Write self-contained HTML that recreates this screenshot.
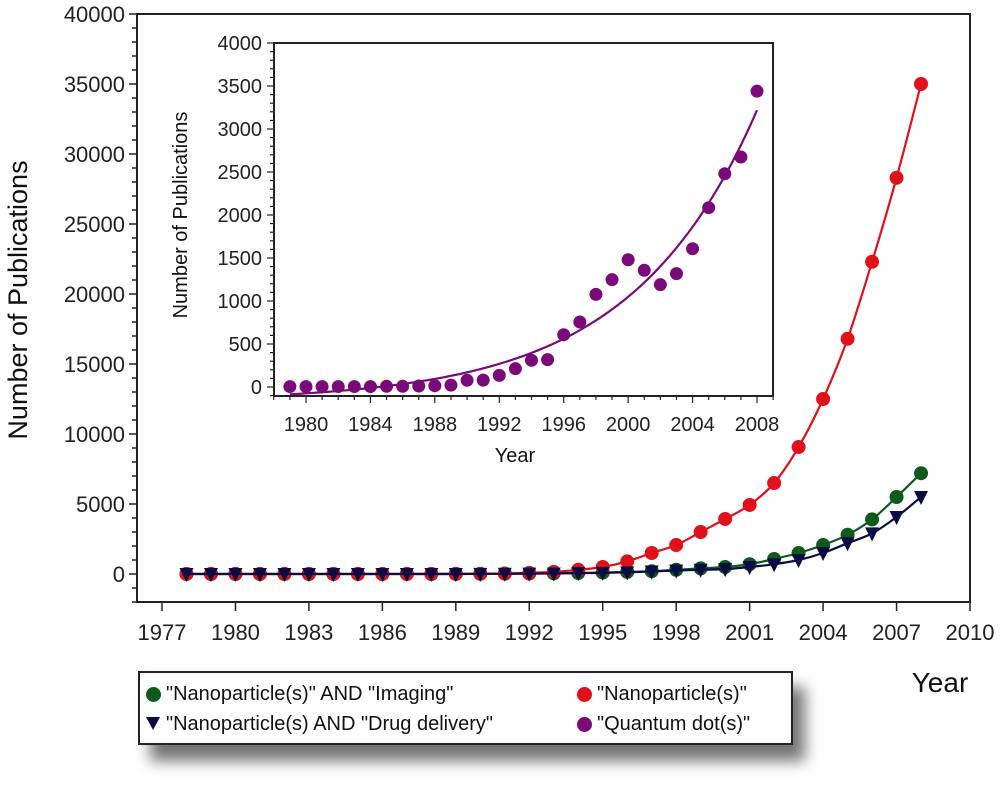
<!DOCTYPE html>
<html><head><meta charset="utf-8">
<style>
body{margin:0;background:#fff;width:1000px;height:802px;overflow:hidden;font-family:"Liberation Sans",sans-serif;}
svg{position:absolute;left:0;top:0}
#legend{position:absolute;left:138px;top:671px;width:651px;height:70px;border:2px solid #222;background:#fff;box-shadow:12px 16px 14px rgba(0,0,0,0.55);font-size:20px;color:#111}
.li{position:absolute;white-space:nowrap;line-height:22px}
.mk{display:inline-block;width:15px;height:15px;border-radius:50%;vertical-align:-2px;margin-right:5px}
</style></head><body>
<svg id="chart" width="1000" height="802"></svg>
<div id="legend">
 <div class="li" style="left:6px;top:10px"><span class="mk" style="background:#0e5a1a"></span>"Nanoparticle(s)" AND "Imaging"</div>
 <div class="li" style="left:6px;top:40px"><span style="display:inline-block;width:0;height:0;border-left:7px solid transparent;border-right:7px solid transparent;border-top:13px solid #0c0c45;margin-right:6px;vertical-align:0"></span>"Nanoparticle(s) AND "Drug delivery"</div>
 <div class="li" style="left:437px;top:10px"><span class="mk" style="background:#e0111a"></span>"Nanoparticle(s)"</div>
 <div class="li" style="left:437px;top:40px"><span class="mk" style="background:#7a0a78"></span>"Quantum dot(s)"</div>
</div>
<script>
const years = [1978,1979,1980,1981,1982,1983,1984,1985,1986,1987,1988,1989,1990,1991,1992,1993,1994,1995,1996,1997,1998,1999,2000,2001,2002,2003,2004,2005,2006,2007,2008];
const nanoVals = [5,5,5,5,5,5,5,5,5,5,10,15,20,40,80,150,300,500,900,1500,2070,3000,3930,4930,6500,9070,12500,16800,22300,28300,35000];
const imagingVals = [0,0,0,0,0,0,0,0,0,0,0,0,10,20,30,50,70,100,150,200,300,400,500,700,1070,1500,2070,2800,3900,5500,7200];
const drugVals = [0,0,0,0,0,0,0,0,0,0,0,0,10,15,25,40,60,80,120,180,250,300,350,500,700,1000,1500,2200,2900,4070,5500];
const qdYears = [1979,1980,1981,1982,1983,1984,1985,1986,1987,1988,1989,1990,1991,1992,1993,1994,1995,1996,1997,1998,1999,2000,2001,2002,2003,2004,2005,2006,2007,2008];
const qdVals = [5,5,5,5,5,5,8,8,12,15,22,78,80,135,213,310,318,608,756,1077,1248,1480,1357,1190,1318,1608,2085,2480,2674,3440];
const mainYTicks = [0,5000,10000,15000,20000,25000,30000,35000,40000];
const mainXTicks = [1977,1980,1983,1986,1989,1992,1995,1998,2001,2004,2007,2010];
const insetYTicks = [0,500,1000,1500,2000,2500,3000,3500,4000];
const insetXTicks = [1980,1984,1988,1992,1996,2000,2004,2008];

const svg = document.getElementById('chart');
const NS = 'http://www.w3.org/2000/svg';
function mk(tag, attrs, parent){const e=document.createElementNS(NS,tag);for(const k in attrs)e.setAttribute(k,attrs[k]);(parent||svg).appendChild(e);return e;}

const MX0=137,MX1=970,MY0=14,MY1=602;
const mx = y => 162 + (y-1977)*(970-162)/33;
const my = v => 574 - v*(574-14)/40000;
const IX0=274,IX1=773,IY0=43,IY1=396;
const ix = y => 306 + (y-1980)*(757-306)/28;
const iy = v => 387 - v*(387-43)/4000;

function smoothPath(xs, ys){
  let d='M'+xs[0]+','+ys[0];
  for(let i=0;i<xs.length-1;i++){
    const x0=xs[Math.max(i-1,0)],y0=ys[Math.max(i-1,0)],x1=xs[i],y1=ys[i],x2=xs[i+1],y2=ys[i+1],x3=xs[Math.min(i+2,xs.length-1)],y3=ys[Math.min(i+2,xs.length-1)];
    const c1x=x1+(x2-x0)/6,c1y=y1+(y2-y0)/6,c2x=x2-(x3-x1)/6,c2y=y2-(y3-y1)/6;
    d+=` C${c1x},${c1y} ${c2x},${c2y} ${x2},${y2}`;
  }
  return d;
}

const mframe = mk('rect',{x:MX0,y:MY0,width:MX1-MX0,height:MY1-MY0,fill:'#fff',stroke:'#222','stroke-width':2});


for(let v=-2000; v<=40000; v+=1000){
  const major = v%5000===0;
  const t = mk('line',{x1:MX0,x2:MX0-(major?8:5),y1:my(v),y2:my(v),stroke:'#222','stroke-width':1.5});
  
  
}
mainYTicks.forEach(v=>{
  const t = mk('text',{x:125,y:my(v)+8,'text-anchor':'end','font-size':22,fill:'#222'});
  t.textContent=v;
  
  
});
mainXTicks.forEach(y=>{
  const l = mk('line',{x1:mx(y),x2:mx(y),y1:MY1,y2:MY1+9,stroke:'#222','stroke-width':1.5});
  
  
  const t = mk('text',{x:mx(y),y:640,'text-anchor':'middle','font-size':22,fill:'#222'});
  t.textContent=y;
  
  
});
const yt = mk('text',{x:0,y:0,transform:'translate(27,300) rotate(-90)','text-anchor':'middle','font-size':27,fill:'#111'});
yt.textContent='Number of Publications';


const xt = mk('text',{x:940,y:692,'text-anchor':'middle','font-size':28,fill:'#111'});
xt.textContent='Year';



function series(vals, color, name, tri){
  const xs=years.map(mx), ys=vals.map(my);
  const p = mk('path',{d:smoothPath(xs,ys),fill:'none',stroke:color,'stroke-width':2.2});
  
  
  vals.forEach((v,i)=>{
    let m;
    if(tri){
      const x=xs[i],y=ys[i];
      m = mk('polygon',{points:`${x-7},${y-6} ${x+7},${y-6} ${x},${y+8}`,fill:color});
    } else {
      m = mk('circle',{cx:xs[i],cy:ys[i],r:7,fill:color});
    }
    
    
  });
}
series(imagingVals,'#0e5a1a','imaging',false);
series(nanoVals,'#e0111a','nanoparticles',false);
series(drugVals,'#0c0c45','drug-delivery',true);

const iframe = mk('rect',{x:IX0,y:IY0,width:IX1-IX0,height:IY1-IY0,fill:'#fff',stroke:'#222','stroke-width':2});


for(let v=-100; v<=4000; v+=100){
  const major=v%500===0;
  const t = mk('line',{x1:IX0,x2:IX0-(major?7:4),y1:iy(v),y2:iy(v),stroke:'#222','stroke-width':1.2});
  
  
}
insetYTicks.forEach(v=>{
  const t = mk('text',{x:262,y:iy(v)+7,'text-anchor':'end','font-size':20,fill:'#222'});
  t.textContent=v;
  
  
});
for(let y=1978; y<=2009; y++){
  const major = insetXTicks.includes(y);
  const t = mk('line',{x1:ix(y),x2:ix(y),y1:IY1,y2:IY1+(major?7:4),stroke:'#222','stroke-width':1.2});
  
  
}
insetXTicks.forEach(y=>{
  const t = mk('text',{x:ix(y),y:431,'text-anchor':'middle','font-size':20,fill:'#222'});
  t.textContent=y;
  
  
});
const iyt = mk('text',{x:0,y:0,transform:'translate(187,215) rotate(-90)','text-anchor':'middle','font-size':20,fill:'#111'});
iyt.textContent='Number of Publications';


const ixt = mk('text',{x:515,y:462,'text-anchor':'middle','font-size':20,fill:'#111'});
ixt.textContent='Year';



// exponential fit v = A*exp(b*t) + D, least squares in linear space (grid over b)
(function(){
  let best=null;
  for(let b=0.03;b<=0.4;b+=0.001){
    let n=0,se=0,sv=0,see=0,sev=0;
    qdYears.forEach((y,i)=>{const e=Math.exp(b*(y-2008));n++;se+=e;sv+=qdVals[i];see+=e*e;sev+=e*qdVals[i];});
    const A=(n*sev-se*sv)/(n*see-se*se), D=(sv-A*se)/n;
    let err=0;
    qdYears.forEach((y,i)=>{const r=A*Math.exp(b*(y-2008))+D-qdVals[i];err+=r*r;});
    if(!best||err<best.err)best={A,D,b,err};
  }
  let d='';
  for(let y=1979;y<=2008.01;y+=0.25){const v=best.A*Math.exp(best.b*(y-2008))+best.D;d+=(d?'L':'M')+ix(y)+','+iy(v);}
  const p = mk('path',{d:d,fill:'none',stroke:'#7a0a78','stroke-width':2.2});
  
  
})();
qdVals.forEach((v,i)=>{
  const c = mk('circle',{cx:ix(qdYears[i]),cy:iy(v),r:6.5,fill:'#7a0a78'});
  
  
});
</script>
</body></html>
